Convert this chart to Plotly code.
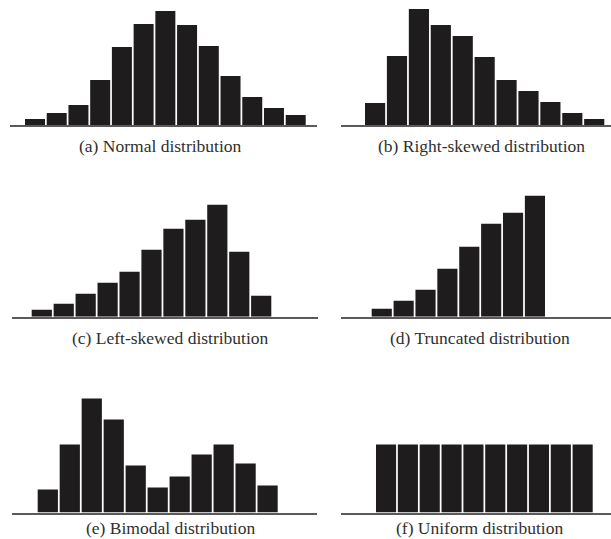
import plotly.graph_objects as go

# ---- data (bar heights) ----
normal_vals = [6, 12, 20, 45, 78, 101, 114, 100, 79, 49, 28, 17, 10]
right_skewed_vals = [22, 69, 116, 100, 89, 68, 45, 34, 23, 12, 6]
left_skewed_vals = [7, 13, 23, 34, 45, 67, 88, 97, 112, 65, 21]
truncated_vals = [8, 16, 27, 48, 70, 93, 104, 121]
bimodal_vals = [23, 68, 114, 93, 47, 25, 36, 58, 68, 49, 27]
uniform_vals = [68, 68, 68, 68, 68, 68, 68, 68, 68, 68]

labels = [
    "(a) Normal distribution",
    "(b) Right-skewed distribution",
    "(c) Left-skewed distribution",
    "(d) Truncated distribution",
    "(e) Bimodal distribution",
    "(f) Uniform distribution",
]

W, H = 611, 539
GAP = 0.08
YMAX = 125

# layout geometry in pixels: axis left, axis right, first bar left, last bar right, baseline y, label x, label y
panels = [
    (normal_vals, 10, 317, 25.0, 305.7, 125.0, 160, 146),
    (right_skewed_vals, 341, 611, 365.0, 604.3, 125.0, 481, 146),
    (left_skewed_vals, 12, 318, 31.7, 271.3, 316.7, 170, 338),
    (truncated_vals, 341, 611, 371.7, 545.0, 316.7, 480, 338),
    (bimodal_vals, 12, 317, 37.7, 277.7, 512.5, 170, 527.5),
    (uniform_vals, 341, 611, 376.0, 592.7, 512.5, 480, 527.5),
]

fig = go.Figure()
layout = dict(
    width=W, height=H,
    margin=dict(l=0, r=0, t=0, b=0),
    paper_bgcolor="white", plot_bgcolor="white",
    showlegend=False, bargap=GAP,
    annotations=[],
)

for i, (vals, axl, axr, bl, br, base, lx, ly) in enumerate(panels):
    n = len(vals)
    pitch = (br - bl) / (n - GAP)
    c0 = bl + pitch * (1 - GAP) / 2
    xr = [-(c0 - axl) / pitch, (axr - c0) / pitch]
    k = "" if i == 0 else str(i + 1)
    fig.add_trace(go.Bar(
        x=list(range(n)), y=vals,
        marker=dict(color="#1f1c1d", line=dict(width=0)),
        xaxis="x" + k, yaxis="y" + k, hoverinfo="skip",
    ))
    layout["xaxis" + k] = dict(
        domain=[axl / W, axr / W], range=xr,
        showgrid=False, zeroline=False, showticklabels=False, ticks="",
        showline=True, linecolor="#5a5a5a", linewidth=2,
        anchor="y" + k, fixedrange=True,
    )
    layout["yaxis" + k] = dict(
        domain=[1 - base / H, 1 - (base - YMAX) / H], range=[0, YMAX],
        showgrid=False, zeroline=False, showticklabels=False, ticks="",
        showline=False, anchor="x" + k, fixedrange=True,
    )
    layout["annotations"].append(dict(
        text=labels[i], xref="paper", yref="paper",
        x=lx / W, y=1 - ly / H, xanchor="center", yanchor="middle",
        showarrow=False, borderpad=0,
        font=dict(family="Liberation Serif, Times New Roman, serif", size=17.5, color="#2f2f2f"),
    ))

fig.update_layout(**layout)
fig.write_html(
    "out.html",
    config={"displayModeBar": False},
    post_script="document.body.style.margin='0';document.body.style.overflow='hidden';",
)
